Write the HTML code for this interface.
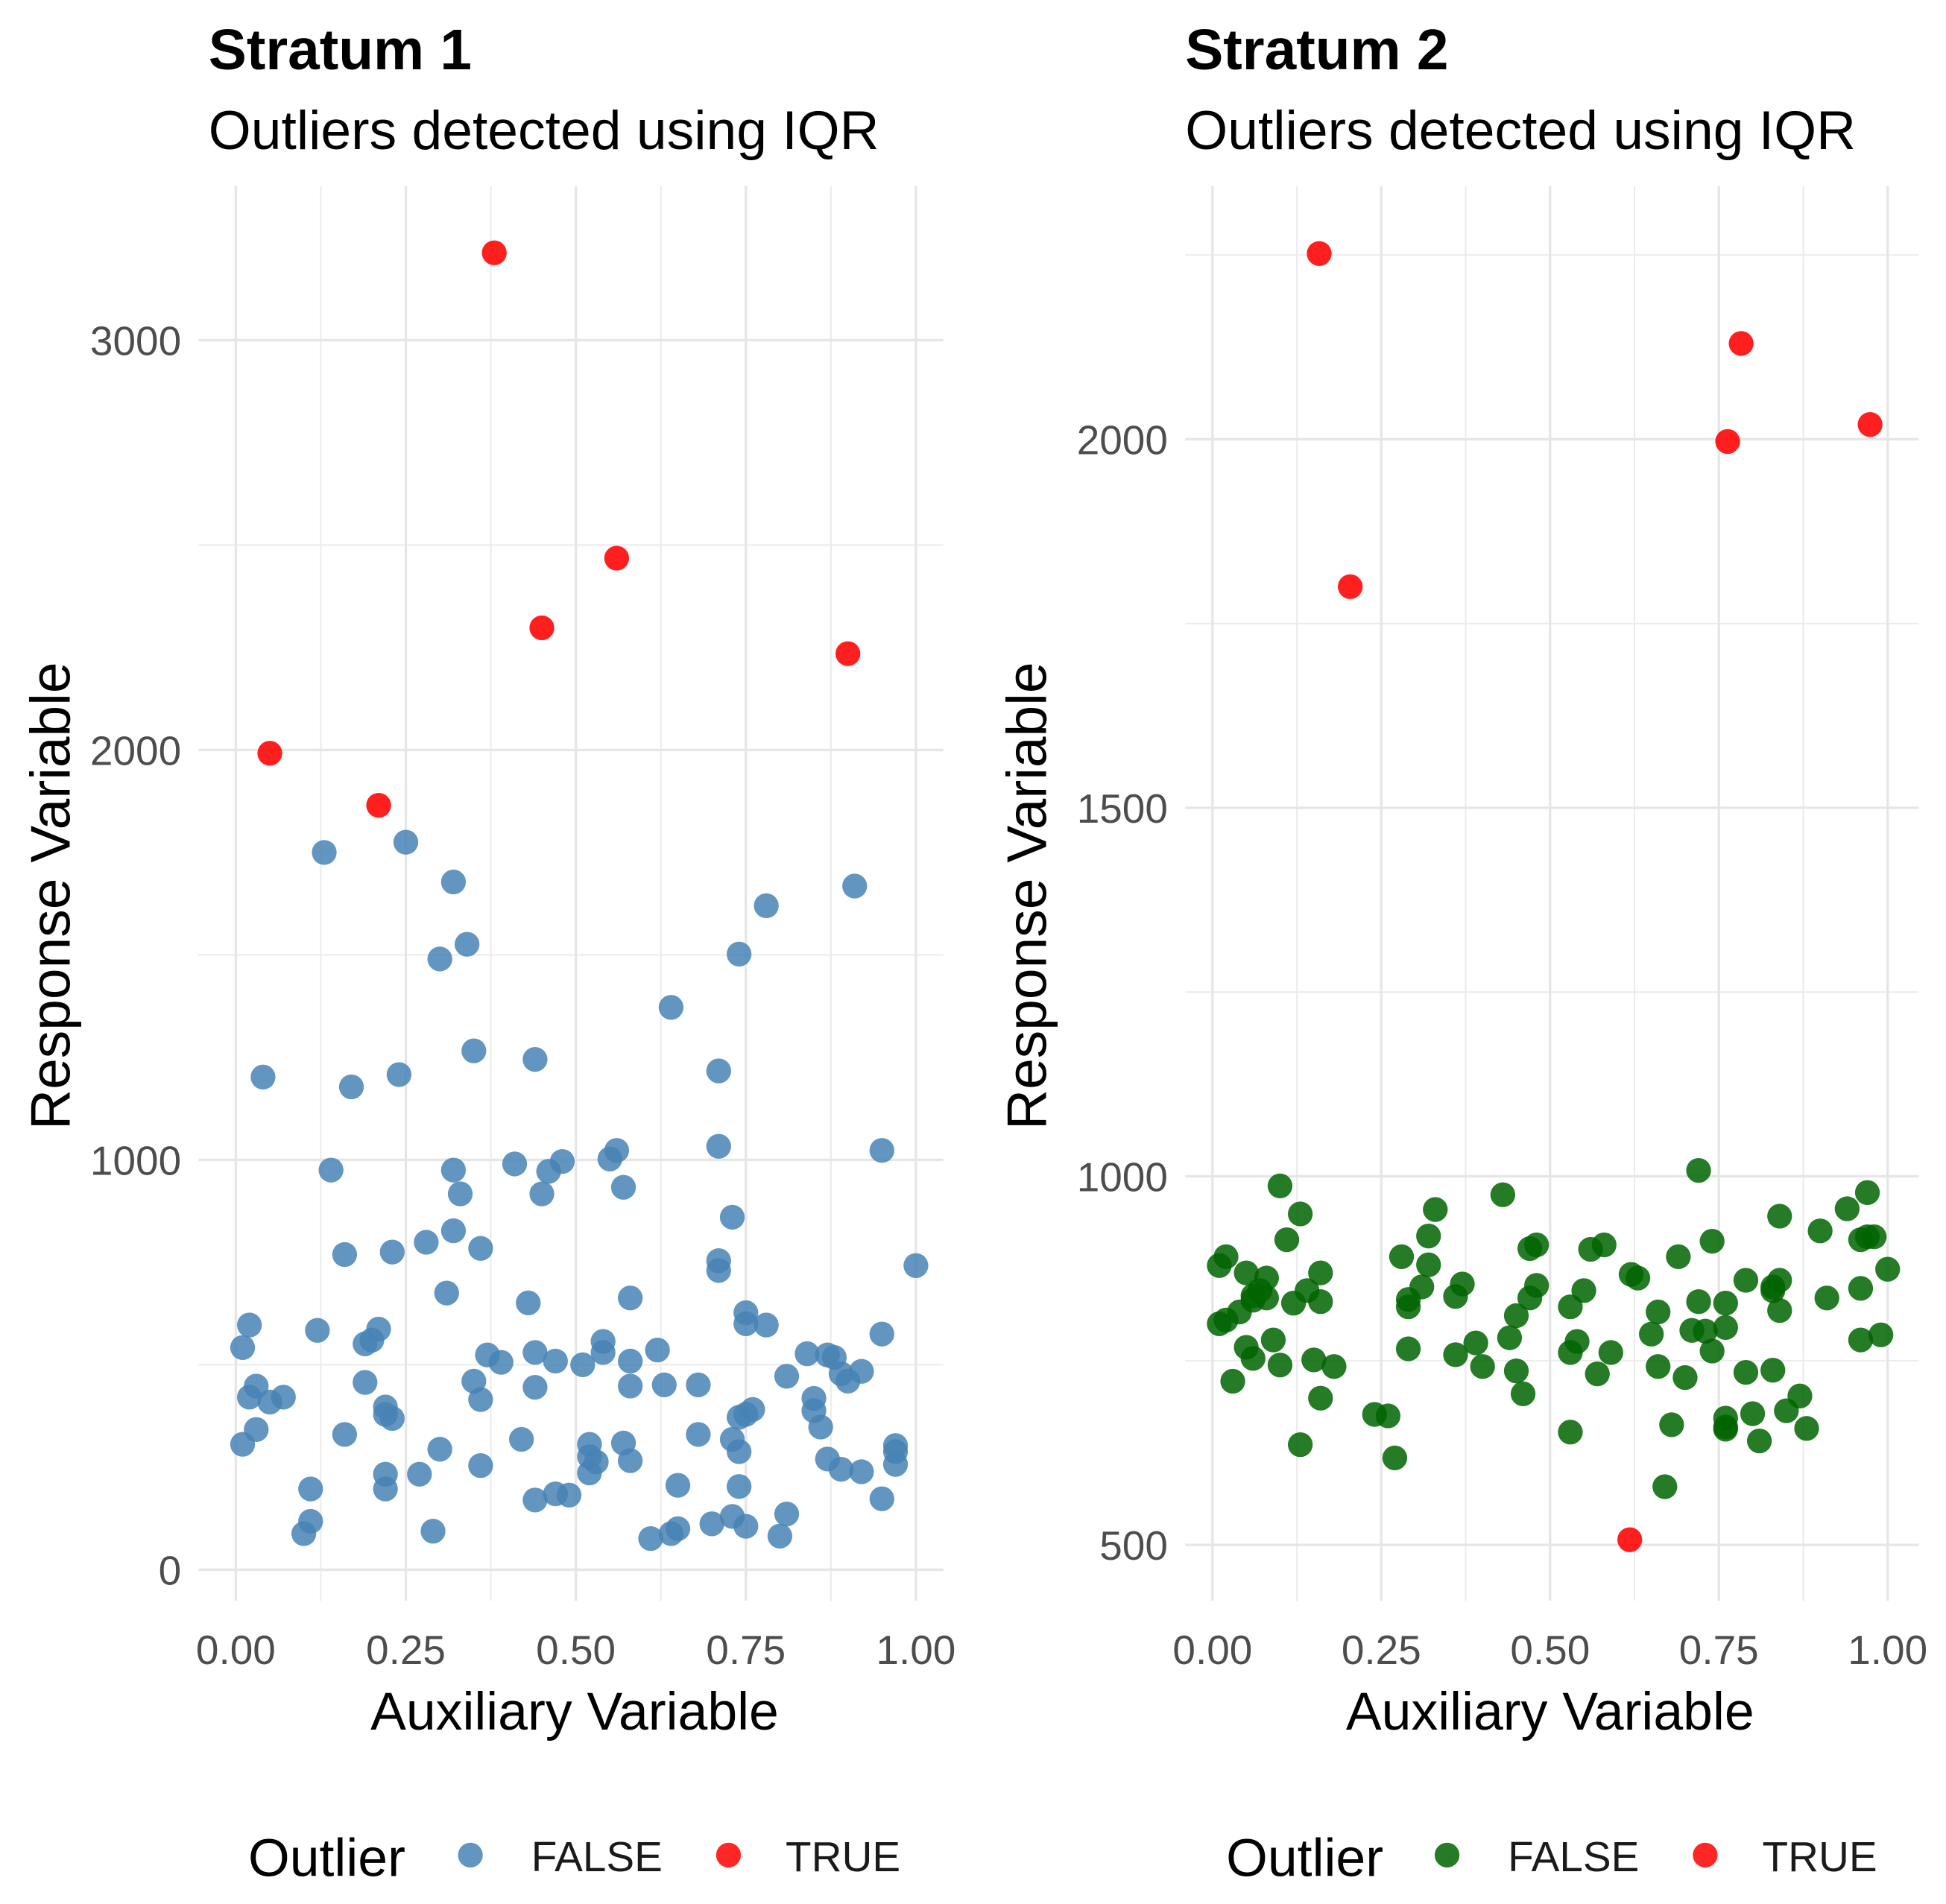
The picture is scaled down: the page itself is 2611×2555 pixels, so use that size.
<!DOCTYPE html>
<html><head><meta charset="utf-8"><style>
html,body{margin:0;padding:0;background:#fff;}
svg{display:block;font-family:"Liberation Sans",sans-serif;}
</style></head><body>
<svg id="chart" width="2611" height="2555" viewBox="0 0 1568 1534.4" xmlns="http://www.w3.org/2000/svg">
<rect width="1568" height="1535" fill="#fff"/>
<g>
<text x="168" y="56" font-size="46" font-weight="bold">Stratum 1</text>
<text x="168" y="120" font-size="44">Outliers detected using IQR</text>
<text transform="translate(56,722) rotate(-90)" text-anchor="middle" font-size="45">Response Variable</text>
<text x="463" y="1394" text-anchor="middle" font-size="43">Auxiliary Variable</text>
<g id="p1grid"></g><g id="p1pts"></g>
<text x="200" y="1512" font-size="43">Outlier</text>
<circle cx="379" cy="1495" r="10" fill="#4682B4" fill-opacity="0.85"/>
<text x="428" y="1508" font-size="34" fill="#1a1a1a">FALSE</text>
<circle cx="587" cy="1495" r="10" fill="#FF0000" fill-opacity="0.85"/>
<text x="633" y="1508" font-size="34" fill="#1a1a1a">TRUE</text>
</g>
<g>
<text x="955" y="56" font-size="46" font-weight="bold">Stratum 2</text>
<text x="955" y="120" font-size="44">Outliers detected using IQR</text>
<text transform="translate(843,722) rotate(-90)" text-anchor="middle" font-size="45">Response Variable</text>
<text x="1249" y="1394" text-anchor="middle" font-size="43">Auxiliary Variable</text>
<g id="p2grid"></g><g id="p2pts"></g>
<text x="988" y="1512" font-size="43">Outlier</text>
<circle cx="1166" cy="1495" r="10" fill="#006400" fill-opacity="0.85"/>
<text x="1215" y="1508" font-size="34" fill="#1a1a1a">FALSE</text>
<circle cx="1374" cy="1495" r="10" fill="#FF0000" fill-opacity="0.85"/>
<text x="1420" y="1508" font-size="34" fill="#1a1a1a">TRUE</text>
</g>
</svg>
<script>
const xTicks = [0, 0.25, 0.5, 0.75, 1];
const xTickLabels = ["0.00", "0.25", "0.50", "0.75", "1.00"];
const s1YTicks = [0, 1000, 2000, 3000];
const s1YTickLabels = ["0", "1000", "2000", "3000"];
const s2YTicks = [500, 1000, 1500, 2000];
const s2YTickLabels = ["500", "1000", "1500", "2000"];

const s1FalseX = [.13,.25,.32,.30,.34,.35,.04,.17,.24,.44,.14,.41,.46,.48,.55,.56,.33,.32,.45,.57,.16,.23,.28,.32,.36,.31,.43,.71,.64,.74,.78,.91,.71,.71,.73,.71,.95,1.0,.02,.01,.12,.20,.21,.19,.02,.03,.05,.07,.03,.01,.19,.22,.22,.23,.16,.37,.39,.35,.36,.44,.44,.47,.51,.54,.54,.58,.58,.62,.63,.58,.75,.75,.78,.68,.76,.81,.85,.84,.87,.89,.88,.92,.90,.95,.75,.85,.86,.68,.73,.74,.74,.52,.52,.52,.42,.53,.47,.57,.58,.36,.30,.27,.22,.22,.11,.11,.10,.29,.44,.49,.61,.64,.65,.70,.65,.74,.75,.73,.81,.80,.87,.89,.92,.95,.97,.97,.97];
const s1FalseY = [1750,1775,1678,1490,1526,1266,1202,1178,1208,1245,975,990,972,996,1002,1023,917,975,917,933,769,775,799,827,784,675,651,1217,1372,1502,1620,1668,1033,730,860,754,1023,742,597,542,584,560,587,551,421,448,409,421,342,306,457,397,379,369,330,524,506,460,415,530,445,509,500,530,557,448,509,536,451,663,600,627,597,451,391,472,418,527,524,478,518,484,460,575,379,388,348,330,318,372,288,306,276,236,318,263,185,309,266,254,294,233,233,197,197,118,88,94,170,182,76,88,100,112,206,203,106,130,136,82,270,245,239,173,288,257,303];
const s1TrueX = [.38,.56,.45,.90,.05,.21];
const s1TrueY = [3213,2468,2298,2235,1992,1865];

const s2FalseX = [.10,.13,.11,.16,.08,.04,.02,.05,.01,.02,.05,.06,.06,.08,.07,.12,.14,.16,.01,.03,.06,.09,.10,.15,.18,.16,.13,.24,.26,.27,.31,.28,.32,.32,.33,.36,.37,.29,.29,.29,.36,.39,.40,.43,.44,.45,.45,.46,.48,.47,.48,.47,.53,.53,.54,.53,.56,.55,.59,.57,.58,.62,.63,.65,.66,.66,.67,.68,.70,.72,.69,.71,.72,.74,.74,.76,.76,.76,.76,.79,.79,.80,.81,.83,.84,.83,.83,.84,.84,.87,.88,.91,.90,.94,.96,.96,.98,.99,1.0,.97,.97,.96,.73,.76,.85];
const s2FalseY = [987,949,914,830,835,816,805,768,879,891,869,838,832,862,845,828,845,869,800,722,753,778,744,751,742,699,636,677,675,618,850,891,880,919,955,837,854,833,823,766,758,774,742,975,781,811,736,705,852,902,907,835,823,761,776,653,901,845,761,732,907,867,862,786,742,816,579,663,727,1008,891,791,830,912,763,672,660,795,828,859,734,678,641,850,946,737,845,859,818,702,658,835,926,956,778,848,918,785,874,978,918,914,790,657,682,646,858,1029,1010];
const s2TrueX = [.158,.204,.783,.763,.974,.618];
const s2TrueY = [2252,1800,2130,1997,2020,507];

const NS = "http://www.w3.org/2000/svg";
function mk(tag, attrs, parent){const e=document.createElementNS(NS,tag);for(const k in attrs)e.setAttribute(k,attrs[k]);parent.appendChild(e);return e;}

function panel(p, gridG, ptsG, xScale, yScale, yMinor, yTicks, yLabels, falseX, falseY, trueX, trueY, falseColor, left, right){
  yMinor.forEach(v=>{
    const l=mk("line",{x1:left,x2:right,y1:yScale(v),y2:yScale(v),stroke:"#ebebeb","stroke-width":1.2},gridG);
    
    
  });
  [0.125,0.375,0.625,0.875].forEach(v=>{
    const l=mk("line",{x1:xScale(v),x2:xScale(v),y1:150,y2:1290,stroke:"#ebebeb","stroke-width":1.2},gridG);
    
    
  });
  yTicks.forEach((v,i)=>{
    const l=mk("line",{x1:left,x2:right,y1:yScale(v),y2:yScale(v),stroke:"#e6e6e6","stroke-width":2},gridG);
    
    
    const t=mk("text",{x:left-14,y:yScale(v)+12,"text-anchor":"end","font-size":33,fill:"#4d4d4d"},gridG);
    t.textContent=yLabels[i];
    
    
  });
  xTicks.forEach((v,i)=>{
    const l=mk("line",{x1:xScale(v),x2:xScale(v),y1:150,y2:1290,stroke:"#e6e6e6","stroke-width":2},gridG);
    
    
    const t=mk("text",{x:xScale(v),y:1341,"text-anchor":"middle","font-size":33,fill:"#4d4d4d"},gridG);
    t.textContent=xTickLabels[i];
    
    
  });
  falseX.forEach((v,i)=>{
    const c=mk("circle",{cx:xScale(v),cy:yScale(falseY[i]),r:10,fill:falseColor,"fill-opacity":0.85},ptsG);
    
    
  });
  trueX.forEach((v,i)=>{
    const c=mk("circle",{cx:xScale(v),cy:yScale(trueY[i]),r:10,fill:"#FF0000","fill-opacity":0.88},ptsG);
    
    
  });
}
const x1=v=>190+v*548, y1=v=>1265-v*0.3303;
const x2=v=>977+v*544, y2=v=>1245-(v-500)*0.594;
panel("stratum1",document.getElementById("p1grid"),document.getElementById("p1pts"),x1,y1,[500,1500,2500],s1YTicks,s1YTickLabels,s1FalseX,s1FalseY,s1TrueX,s1TrueY,"#4682B4",160,760);
panel("stratum2",document.getElementById("p2grid"),document.getElementById("p2pts"),x2,y2,[750,1250,1750,2250],s2YTicks,s2YTickLabels,s2FalseX,s2FalseY,s2TrueX,s2TrueY,"#006400",955,1546);
</script>
</body></html>
